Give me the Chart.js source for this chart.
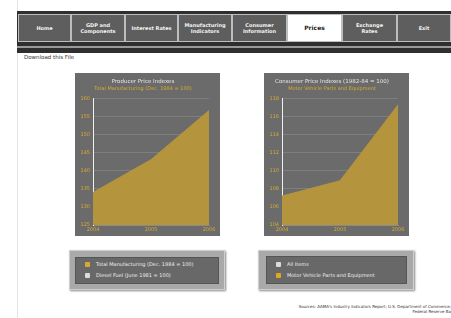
<!DOCTYPE html>
<html>
<head>
<meta charset="utf-8">
<script src="https://cdn.jsdelivr.net/npm/chart.js@4.4.0/dist/chart.umd.min.js"></script>
<style>
  html,body{margin:0;padding:0;background:#fff;}
  body{width:451px;height:318px;position:relative;overflow:hidden;font-family:"DejaVu Sans",sans-serif;}
  .page{position:absolute;left:17px;top:0;width:440px;height:318px;border-left:1px solid #e4e4e4;}
  .navband{position:absolute;left:17px;top:11px;width:434px;height:42px;background:#2f2f2f;}
  .navline{position:absolute;left:17px;top:46px;width:434px;height:2px;background:#9a9a9a;}
  .btn{position:absolute;top:14px;height:28px;background:#5e5e5e;border:1px solid #bdbdbd;box-sizing:border-box;
       color:#f2f2f2;font-size:5px;font-weight:bold;display:flex;align-items:center;justify-content:center;text-align:center;line-height:6px;}
  .btn.active{background:#fff;color:#222;font-size:6px;}
  .dl{position:absolute;left:24px;top:54px;font-size:5.5px;color:#333;}
  .panel{position:absolute;top:73px;width:145px;height:163px;}
  .lgOuter{position:absolute;background:#a9a9a9;border:1px solid #d0d0d0;box-sizing:border-box;box-shadow:1px 1px 2px #888;}
  .lgInner{position:absolute;background:#686868;border:1px solid #555;box-sizing:border-box;}
  .lgItem{position:absolute;left:9px;font-size:5px;color:#eee;white-space:nowrap;}
  .ico{display:inline-block;width:5px;height:5px;margin-right:6px;vertical-align:middle;border-radius:1px;}
  .src{position:absolute;right:0;font-size:4px;color:#333;white-space:nowrap;text-align:right;}
</style>
</head>
<body>
<div class="page"></div>
<div class="navband"></div>
<div class="btn" style="left:18px;width:53px;">Home</div>
<div class="btn" style="left:71px;width:54px;">GDP and<br>Components</div>
<div class="btn" style="left:125px;width:53px;">Interest Rates</div>
<div class="btn" style="left:178px;width:54px;">Manufacturing<br>Indicators</div>
<div class="btn" style="left:232px;width:55px;">Consumer<br>Information</div>
<div class="btn active" style="left:287px;width:55px;">Prices</div>
<div class="btn" style="left:342px;width:55px;">Exchange<br>Rates</div>
<div class="btn" style="left:397px;width:54px;">Exit</div>
<div class="navline"></div>
<div class="dl">Download this File</div>

<div class="panel" style="left:75px;"><canvas id="c1" width="145" height="163"></canvas></div>
<div class="panel" style="left:264px;"><canvas id="c2" width="145" height="163"></canvas></div>

<div class="lgOuter" style="left:69px;top:250px;width:156px;height:40px;">
  <div class="lgInner" style="left:5px;top:6px;width:144px;height:27px;">
    <div class="lgItem" style="top:3px;"><span class="ico" style="background:#d9aa30;"></span>Total Manufacturing (Dec. 1984 = 100)</div>
    <div class="lgItem" style="top:14px;"><span class="ico" style="background:#dcdcdc;"></span>Diesel Fuel (June 1981 = 100)</div>
  </div>
</div>
<div class="lgOuter" style="left:258px;top:250px;width:156px;height:40px;">
  <div class="lgInner" style="left:7px;top:5px;width:141px;height:28px;">
    <div class="lgItem" style="top:4px;"><span class="ico" style="background:#dcdcdc;"></span>All Items</div>
    <div class="lgItem" style="top:15px;"><span class="ico" style="background:#e0a820;"></span>Motor Vehicle Parts and Equipment</div>
  </div>
</div>
<div class="src" style="top:304px;">Sources: AAMA's Industry Indicators Report; U.S. Department of Commerce;</div>
<div class="src" style="top:309px;">Federal Reserve Ba</div>

<script>
const years = ["2004", "2005", "2006"];
const ppiManufacturing = [134.0, 143.1, 156.7];
const cpiMotorParts = [107.2, 108.9, 117.3];
const ppiTicks = [125, 130, 135, 140, 145, 150, 155, 160];
const cpiTicks = [104, 106, 108, 110, 112, 114, 116, 118];

const bgPlugin = {
  id: 'bg',
  beforeDraw(chart) {
    const ctx = chart.ctx;
    ctx.save();
    ctx.fillStyle = '#6b6b6b';
    ctx.fillRect(0, 0, chart.width, chart.height);
    ctx.restore();
  }
};

function makeChart(id, title, subtitle, values, ticks) {
  new Chart(document.getElementById(id), {
    type: 'line',
    data: {
      labels: years,
      datasets: [{
        data: values,
        fill: 'origin',
        backgroundColor: '#b5943e',
        borderColor: '#b5943e',
        borderWidth: 1,
        pointRadius: 0,
        tension: 0
      }]
    },
    options: {
      responsive: false,
      animation: false,
      devicePixelRatio: 1,
      layout: { padding: { left: 2, right: 11, top: 0, bottom: 1 } },
      plugins: {
        legend: { display: false },
        tooltip: { enabled: false },
        title: {
          display: true, text: title, color: '#e6e6e6',
          font: { family: 'DejaVu Sans', size: 5.5, weight: 'normal' },
          padding: { top: 5, bottom: 1 }
        },
        subtitle: {
          display: true, text: subtitle, color: '#d8ab2e',
          font: { family: 'DejaVu Sans', size: 5, weight: 'normal' },
          padding: { top: 0, bottom: 7 }
        }
      },
      scales: {
        x: {
          offset: false,
          grid: { display: true, drawOnChartArea: false, drawTicks: false, tickLength: 0, color: '#8a8a8a' },
          border: { display: true, color: '#8a8a8a' },
          ticks: { color: '#d8ab2e', font: { family: 'DejaVu Sans', size: 5 }, padding: 2, maxRotation: 0, autoSkip: false }
        },
        y: {
          min: ticks[0],
          max: ticks[ticks.length - 1],
          afterBuildTicks(scale) { scale.ticks = ticks.map(v => ({ value: v })); },
          afterFit(scale) { scale.width = 16; },
          grid: { color: 'rgba(255,255,255,0.13)', drawTicks: false },
          border: { display: true, color: '#f0f0f0', width: 1 },
          ticks: { color: '#d8ab2e', font: { family: 'DejaVu Sans', size: 5 }, padding: 3 }
        }
      }
    },
    plugins: [bgPlugin]
  });
}

makeChart('c1', 'Producer Price Indexes', 'Total Manufacturing (Dec. 1984 = 100)', ppiManufacturing, ppiTicks);
makeChart('c2', 'Consumer Price Indexes (1982-84 = 100)', 'Motor Vehicle Parts and Equipment', cpiMotorParts, cpiTicks);
</script>
</body>
</html>
